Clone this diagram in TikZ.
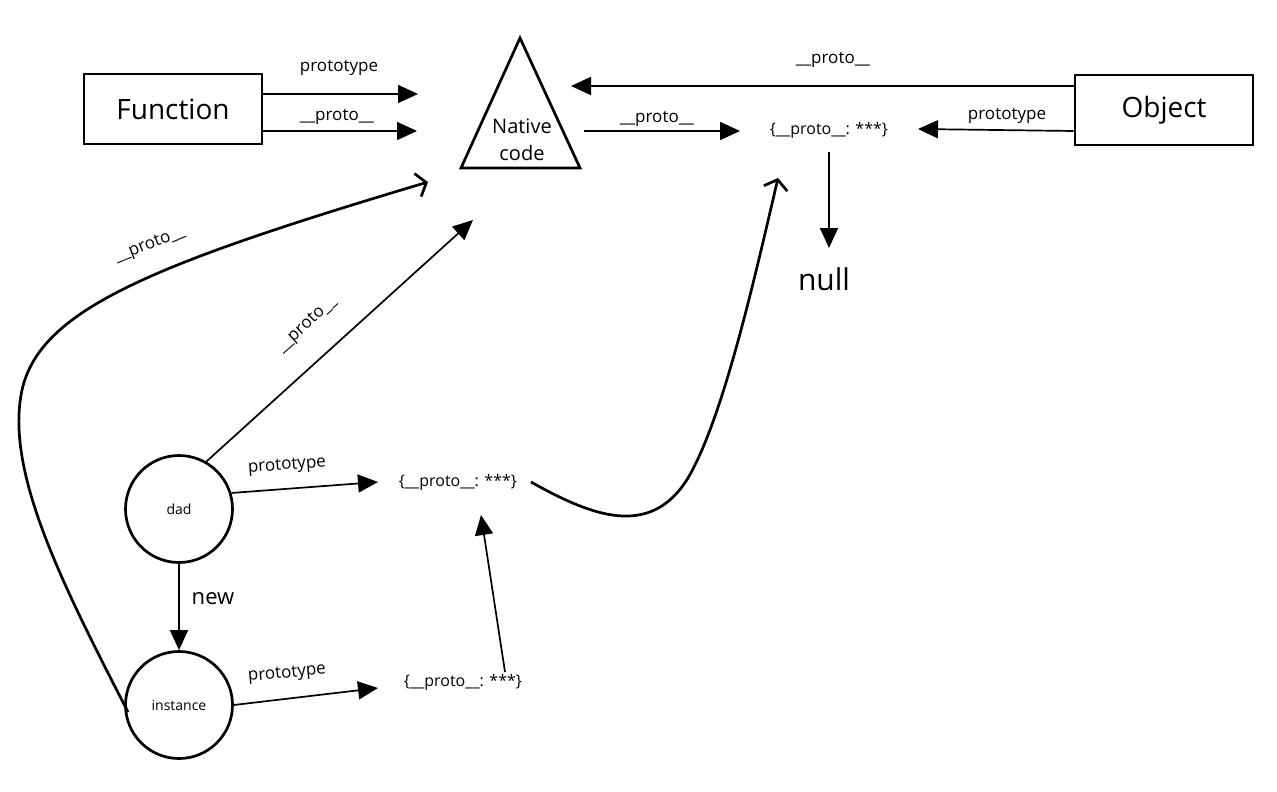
\documentclass[tikz,border=0pt]{standalone}
\usepackage{fontspec}
\setmainfont{Open Sans}
\usetikzlibrary{arrows.meta}
\begin{document}
\begin{tikzpicture}[x=1pt,y=-1pt,
 box/.style={draw,line width=2.7pt,minimum width=178pt,minimum height=70pt,inner sep=0pt,font=\fontsize{28}{32}\selectfont},
 circ/.style={draw,circle,line width=2.7pt,minimum size=107pt,inner sep=0pt,font=\fontsize{14}{16}\selectfont},
 obj/.style={font=\fontsize{16}{18}\selectfont,inner sep=2pt},
 lbl/.style={font=\fontsize{17}{20}\selectfont,inner sep=1pt},
 arr/.style={line width=1.7pt,-{Triangle[length=20pt,width=18pt]}},
 curv/.style={line width=2.7pt,-{Straight Barb[length=9pt,width=24pt,line width=2.7pt]}},
]
\fill[white] (0,0) rectangle (1277,792);
\useasboundingbox (0,0) rectangle (1277,792);

% main nodes
\node[box] (Function) at (173,109) {Function};
\node[box] (Object) at (1164,110) {Object};
\draw[line width=2.7pt,line join=miter] (520,38) -- (580,168) -- (461,168) -- cycle;
\node[font=\fontsize{20}{27}\selectfont,align=center,inner sep=0pt] (native) at (522,140) {Native\\code};
\node[obj] (topobj) at (829,130) {\{\_\_proto\_\_: ***\}};
\node[font=\fontsize{30}{34}\selectfont,inner sep=0pt] (null) at (824,279) {null};
\node[circ] (dad) at (179,509) {dad};
\node[circ] (instance) at (179,705) {instance};
\node[obj] (midobj) at (458,482) {\{\_\_proto\_\_: ***\}};
\node[obj] (botobj) at (463,682) {\{\_\_proto\_\_: ***\}};

% free ends
\coordinate (fnA) at (418,94);
\coordinate (fnB) at (417,131);
\coordinate (objA) at (571,86);
\coordinate (objB) at (918,129);
\coordinate (natA) at (584,131);
\coordinate (natB) at (740,131);
\coordinate (nullA) at (829,248);
\coordinate (dadA) at (378,482);
\coordinate (insA) at (378,688);
\coordinate (botA) at (505,672);
\coordinate (midA) at (481,515);
\coordinate (dadB) at (473,220);
\coordinate (insB) at (428,182);
\coordinate (midB) at (531,482);
\coordinate (topB) at (778,178);

% Function arrows
\draw[arr] ([yshift=15pt]Function.east) -- (fnA);
\draw[arr] ([yshift=-22pt]Function.east) -- (fnB);
\node[lbl] at (339,68) {prototype};
\node[lbl] at (337,117) {\_\_proto\_\_};

% Object arrows
\draw[arr] ([yshift=24pt]Object.west) -- (objA);
\node[lbl] at (833,60) {\_\_proto\_\_};
\draw[arr] ([yshift=-21pt]Object.west) -- (objB);
\node[lbl] at (1007,116) {prototype};

% native -> top obj
\draw[arr] (natA) -- (natB);
\node[lbl] at (657,119) {\_\_proto\_\_};

% top obj -> null
\draw[arr] ([yshift=-22pt]topobj.center) -- (nullA);

% dad / instance
\draw[arr] (dad.south) -- (instance.north);
\node[font=\fontsize{22}{26}\selectfont] at (213,599) {new};
\draw[arr] (dad.17) -- (dadA);
\node[lbl,rotate=4] at (287,466) {prototype};
\draw[arr] (instance.east) -- (insA);
\node[lbl,rotate=5] at (287,674) {prototype};
\draw[arr] (botA) -- (midA);
\draw[arr] (dad.60) -- (dadB);
\node[lbl,rotate=42] at (307,325) {\_\_proto\_\_};

% curves
\draw[curv] ([xshift=-51pt,yshift=-7pt]instance.center) .. controls (60,580) and (5,470) .. (22,390) .. controls (40,310) and (150,265) .. (insB);
\node[lbl,rotate=21] at (150,245) {\_\_proto\_\_};
\draw[curv] (midB) .. controls (590,515) and (650,540) .. (688,478) .. controls (722,420) and (752,290) .. (topB);
\end{tikzpicture}
\end{document}
